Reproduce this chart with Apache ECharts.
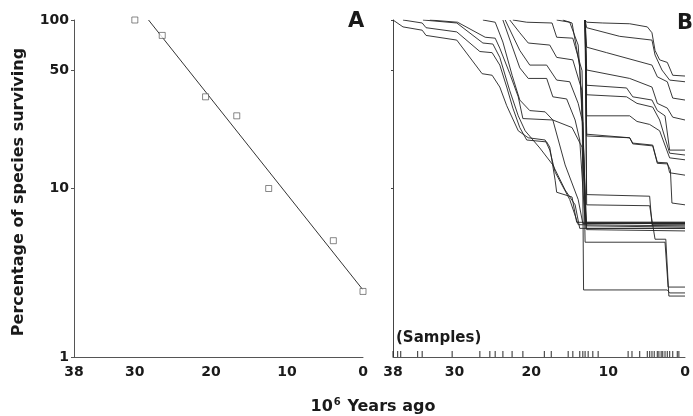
<!DOCTYPE html>
<html>
<head>
<meta charset="utf-8">
<script src="https://cdn.jsdelivr.net/npm/echarts@6/dist/echarts.min.js"></script>
<style>html,body{margin:0;padding:0;background:#fff}#c{width:693px;height:416px}</style>
</head>
<body>
<div id="c"></div>
<script>
// ---- Panel A: percentage of species surviving vs age ----
const agesA = [30, 26.4, 20.7, 16.6, 12.4, 3.9, 0];
const pctA = [100, 81, 35, 27, 10, 4.9, 2.45];
const fitAges = [28.2, 0];
const fitPct = [100, 2.5];

// ---- Axis tick labels ----
const xTicks = [0, 10, 20, 30, 38];
const yTicks = [1, 10, 50, 100];

// ---- Panel B: sample ages (tick marks on the axis) ----
const sampleAges = [38, 37.4, 37.0, 34.8, 34.2, 30.3, 26.7, 25.4, 24.7, 23.7, 22.5, 21.1, 18.3, 17.4, 15.2, 14.6, 13.7, 13.3, 13.0, 12.6, 12.0, 11.3, 7.4, 6.9, 5.9, 4.9, 4.6, 4.3, 4.0, 3.6, 3.4, 3.1, 2.9, 2.6, 2.3, 2.0, 1.6, 1.0, 0.8];

// ---- Panel B: survivorship curves [age, percent] ----
const curveA = [[38,100],[36.7,91],[34.2,87],[33.7,81],[29.7,76],[26.4,48],[25.1,47],[24.1,40],[23.2,31],[21.7,22],[20.4,20],[18.2,19.4],[17.6,16.9],[16.9,12.5],[15.0,8.6],[13.9,6.1],[0,6.0]];
const curveB = [[36.7,100],[34.2,96],[33.7,90],[29.7,85],[26.7,65],[25.1,64],[24.1,54],[23.2,40],[22.4,30],[21.5,23],[20.6,19.4],[18.0,18.9],[17.6,17.6],[16.9,11.2],[16.7,9.5],[14.7,8.9],[14.1,6.3],[0,6.3]];
const curveC = [[34.1,100],[29.7,96],[26.3,73],[25.0,72],[24.1,60],[22.8,38],[21.7,27],[20.8,22],[18.9,17.4],[17.2,13.8],[15.6,9.8],[14.3,8.0],[13.7,5.8],[0,5.8]];
const curveD = [[33.2,100],[29.6,97],[26.0,79],[24.7,78],[24.1,68],[22.8,48],[21.7,35],[21.1,26],[17.2,25.5],[14.7,23],[13.4,17.6],[13.0,8.2],[12.8,5.7],[0,5.6]];
const curveE = [[26.3,100],[24.7,97],[23.7,74],[22.5,47],[21.5,33.5],[20.2,29],[18.2,28.5],[17.2,25.5],[15.6,13.8],[13.9,8.6],[13.3,6.2],[0,6.2]];
const curveM1 = [[22.4,100],[20.6,97],[17.3,96],[16.7,79],[14.6,78],[13.4,50],[13.0,4.8],[2.6,4.8],[2.2,2.6],[0,2.6]];
const curveM2 = [[22.8,100],[21.5,84],[20.4,73],[17.6,71],[16.7,60],[14.6,58],[13.4,38],[13.2,2.5],[2.3,2.5],[2.0,2.4],[0,2.4]];
const curveM3 = [[23.4,100],[21.5,66],[20.2,54],[18.0,54],[16.7,44],[15.0,43],[13.9,32],[13.3,24.5],[12.9,5.8],[0,5.8]];
const curveM4 = [[23.7,100],[21.5,52],[20.4,45],[18.0,45],[17.2,35],[15.4,34],[14.3,25.5],[13.7,19.4],[13.0,6.3],[0,6.3]];
const curveS1 = [[15.9,100],[14.7,96],[13.7,53],[13.2,16.9],[12.8,6.0],[0,5.9]];
const curveS2 = [[16.7,100],[15.0,97],[13.9,71],[13.3,25.5],[12.9,6.2],[0,6.2]];
const curveT1 = [[13.0,100],[12.8,97],[10.7,96],[7.2,95],[4.9,91],[4.3,84],[3.9,66],[3.3,58],[2.3,56],[1.6,47],[0,46.5]];
const curveT2 = [[13.0,100],[12.8,90],[8.5,80],[4.3,76],[3.9,62],[3.0,50.5],[2.0,44],[0,43]];
const curveT3 = [[13.0,100],[12.8,69],[10.2,64],[4.3,54],[3.6,46],[2.3,43],[1.6,34.4],[0,33.5]];
const curveT4 = [[13.0,100],[12.8,50.5],[7.2,45],[4.3,40],[3.6,32],[2.3,30],[1.6,26.5],[0,25.5]];
const curveT5 = [[13.0,100],[12.8,41],[7.6,39.5],[6.8,35],[4.3,33.5],[3.6,29],[2.6,27],[2.0,16.9],[0,16.9]];
const curveT6 = [[13.0,100],[12.8,36],[7.6,35],[6.25,32],[4.2,30.4],[3.3,25.5],[2.0,16.2],[0,15.8]];
const curveT7 = [[13.0,100],[12.8,27],[7.2,27],[6.25,25],[4.6,24],[3.3,22],[2.0,15.2],[0,14.8]];
const curveT8 = [[13.0,100],[12.8,21],[7.2,20],[6.8,18.6],[4.2,18.1],[3.6,14.3],[2.3,14.2],[2.0,12.4],[0,12.0]];
const curveT8b = [[13.0,100],[12.8,20.5],[7.2,20],[6.8,18.4],[4.2,17.9],[3.6,14.1],[2.3,14.0],[1.9,12.9],[1.7,8.2],[0,8.0]];
const curveT9 = [[13.0,100],[12.8,9.2],[4.6,9.0],[4.3,6.1],[0,6.1]];
const curveT10 = [[13.0,100],[12.8,8.0],[4.6,7.9],[3.9,5.0],[2.5,5.0],[2.1,2.3],[0,2.3]];

const curvesB = [curveA, curveB, curveC, curveD, curveE, curveM1, curveM2, curveM3, curveM4, curveS1, curveS2,
  curveT1, curveT2, curveT3, curveT4, curveT5, curveT6, curveT7, curveT8, curveT8b, curveT9, curveT10];

const FONT = 'DejaVu Sans';
const INK = '#1a1a1a';

function xAxisCfg(idx) {
  return {
    type: 'value', gridIndex: idx, min: 0, max: 38, inverse: true,
    axisLine: { show: true, onZero: false, lineStyle: { color: '#555', width: 1 } },
    axisTick: { show: false },
    splitLine: { show: false },
    axisLabel: { customValues: xTicks, fontSize: 14, fontWeight: 'bold', fontFamily: FONT, color: INK, margin: 8 }
  };
}

const chart = echarts.init(document.getElementById('c'), null, { renderer: 'canvas' });
const series = [
  {
    type: 'line', xAxisIndex: 0, yAxisIndex: 0,
    data: fitAges.map((a, i) => [a, fitPct[i]]),
    showSymbol: false, silent: true, z: 2,
    lineStyle: { color: '#333', width: 1 }
  },
  {
    type: 'scatter', xAxisIndex: 0, yAxisIndex: 0,
    data: agesA.map((a, i) => [a, pctA[i]]),
    symbol: 'rect', symbolSize: 6, z: 3,
    itemStyle: { color: '#fff', borderColor: '#444', borderWidth: 0.8 }
  },
  {
    type: 'scatter', xAxisIndex: 1, yAxisIndex: 1,
    data: sampleAges.map(a => [a, 1]),
    symbol: 'rect', symbolSize: [1.2, 6], symbolOffset: [0, '-50%'],
    clip: false, silent: true,
    itemStyle: { color: '#222' }
  }
];
curvesB.forEach(c => series.push({
  type: 'line', xAxisIndex: 1, yAxisIndex: 1, data: c,
  showSymbol: false, silent: true,
  lineStyle: { color: '#222', width: 0.9 }
}));

chart.setOption({
  animation: false,
  backgroundColor: '#fff',
  grid: [
    { left: 74, top: 20, width: 289, height: 337 },
    { left: 393, top: 20, width: 292, height: 337 }
  ],
  xAxis: [xAxisCfg(0), xAxisCfg(1)],
  yAxis: [
    {
      type: 'log', gridIndex: 0, min: 1, max: 100, logBase: 10, position: 'left',
      axisLine: { show: true, onZero: false, lineStyle: { color: '#555', width: 1 } },
      axisTick: { show: true, length: 3, customValues: yTicks, lineStyle: { color: '#555' } },
      minorTick: { show: false },
      splitLine: { show: false },
      axisLabel: { customValues: yTicks, fontSize: 14, fontWeight: 'bold', fontFamily: FONT, color: INK, margin: 5 }
    },
    {
      type: 'log', gridIndex: 1, min: 1, max: 100, logBase: 10, position: 'left',
      axisLine: { show: true, onZero: false, lineStyle: { color: '#444', width: 1 } },
      axisTick: { show: true, length: 2, customValues: [10, 50, 100], lineStyle: { color: '#444' } },
      minorTick: { show: false },
      splitLine: { show: false },
      axisLabel: { show: false }
    }
  ],
  series: series,
  graphic: [
    { type: 'text', x: 348, y: 11, style: { text: 'A', font: 'bold 21px "DejaVu Sans"', fill: INK } },
    { type: 'text', x: 677, y: 13, style: { text: 'B', font: 'bold 21px "DejaVu Sans"', fill: INK } },
    { type: 'text', x: 396, y: 331, style: { text: '(Samples)', font: 'bold 15px "DejaVu Sans"', fill: INK } },
    { type: 'text', x: 19, y: 192, rotation: Math.PI / 2,
      style: { text: 'Percentage of species surviving', font: 'bold 16px "DejaVu Sans"', fill: INK,
        align: 'center', verticalAlign: 'middle', textAlign: 'center', textVerticalAlign: 'middle' } },
    { type: 'text', x: 373, y: 407,
      style: { text: '{n|10}{s|6}{n| Years ago}', fill: INK,
        align: 'center', verticalAlign: 'middle', textAlign: 'center', textVerticalAlign: 'middle',
        rich: {
          n: { fontFamily: FONT, fontWeight: 'bold', fontSize: 16, fill: INK, color: INK },
          s: { fontFamily: FONT, fontWeight: 'bold', fontSize: 10, fill: INK, color: INK, padding: [0, 1, 9, 1] }
        } } }
  ]
});
</script>
</body>
</html>
